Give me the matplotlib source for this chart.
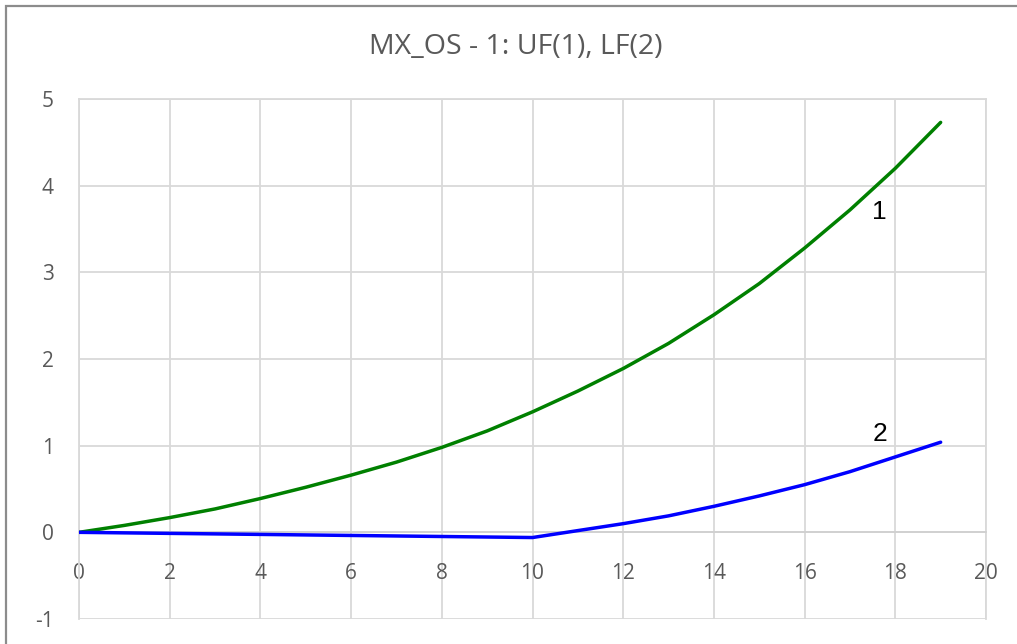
import matplotlib
matplotlib.use("Agg")
import matplotlib.pyplot as plt
from matplotlib.patches import Rectangle

plt.rcParams["axes.unicode_minus"] = False

# Series values at integer x
x_vals = list(range(0, 20))
uf_vals = [0.00, 0.08, 0.17, 0.27, 0.39, 0.52, 0.66, 0.81, 0.98, 1.17,
           1.39, 1.63, 1.89, 2.18, 2.51, 2.87, 3.28, 3.72, 4.20, 4.73]
lf_vals = [0.000, -0.006, -0.012, -0.018, -0.024, -0.030, -0.036, -0.042, -0.048, -0.054,
           -0.060, 0.02, 0.10, 0.19, 0.30, 0.42, 0.55, 0.70, 0.87, 1.04]

x_ticks = [0, 2, 4, 6, 8, 10, 12, 14, 16, 18, 20]
y_ticks = [-1, 0, 1, 2, 3, 4, 5]
title_text = "MX_OS - 1: UF(1), LF(2)"
curve_labels = [("1", 17.64, 3.70), ("2", 17.66, 1.14)]

W, H = 1017, 644
fig = plt.figure(figsize=(W / 100, H / 100), dpi=100)
fig.patch.set_facecolor("white")

# chart frame (left and top edges visible)
fig.patches.append(Rectangle((6 / W, -0.5), 2.0, 1.5 - 6 / H,
                             transform=fig.transFigure, fill=False,
                             edgecolor="#8c8c8c", linewidth=1.6))

ax = fig.add_axes([79 / W, 1 - 619 / H, (986 - 79) / W, (619 - 99) / H])
ax.set_xlim(0, 20)
ax.set_ylim(-1, 5)

grid_c = "#d9d9d9"
ax.set_xticks(x_ticks)
ax.set_yticks(y_ticks)
ax.grid(True, color=grid_c, linewidth=1.3)
ax.set_axisbelow(True)
for s in ["top", "right", "left"]:
    ax.spines[s].set_color(grid_c)
    ax.spines[s].set_linewidth(1.3)
ax.spines["bottom"].set_position(("data", 0))
ax.spines["bottom"].set_color("#d0d0d0")
ax.spines["bottom"].set_linewidth(1.3)

tick_family = ["Open Sans", "DejaVu Sans"]
ax.tick_params(axis="both", length=0)
ax.tick_params(axis="x", pad=22)
ax.tick_params(axis="y", pad=18)
for lab in ax.get_xticklabels() + ax.get_yticklabels():
    lab.set_fontfamily(tick_family)
    lab.set_fontsize(15)
    lab.set_color("#595959")

ax.plot(x_vals, uf_vals, color="#008000", linewidth=2.5,
        solid_capstyle="round", solid_joinstyle="round", zorder=3)
ax.plot(x_vals, lf_vals, color="#0000ff", linewidth=2.5,
        solid_capstyle="round", solid_joinstyle="round", zorder=3)

for txt, lx, ly in curve_labels:
    ax.text(lx, ly, txt, ha="center", va="center", fontsize=19,
            family=["Liberation Sans", "DejaVu Sans"], color="black", zorder=4)

fig.text((365 + 666) / 2 / W, 1 - 47 / H, title_text, ha="center", va="center",
         fontsize=20.5, family=["Open Sans", "DejaVu Sans"], color="#595959")

fig.savefig("out.png", dpi=100, facecolor="white")
